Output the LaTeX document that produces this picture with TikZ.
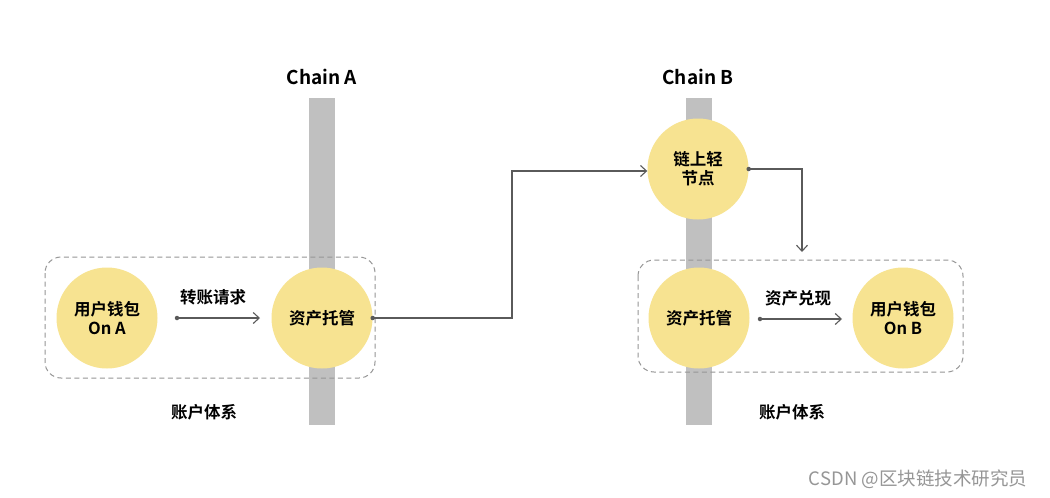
\documentclass[tikz,border=0pt]{standalone}
\usepackage{fontspec}
\setmainfont{Noto Sans CJK SC}[BoldFont={* Bold}]
\newfontfamily\cjkbold{Noto Sans CJK SC Bold}
\usetikzlibrary{arrows.meta}
\definecolor{circ}{RGB}{247,227,145}
\definecolor{bar}{RGB}{192,192,192}
\definecolor{dash}{RGB}{150,150,150}
\definecolor{line}{RGB}{90,90,90}
\tikzset{
  circnode/.style={circle,fill=circ,minimum size=101pt,inner sep=0pt,align=center,font=\cjkbold\fontsize{16.5}{19}\selectfont,text=black},
  chainbar/.style={fill=bar,draw=none},
  groupbox/.style={draw=dash,line width=1pt,rounded corners=16pt,dash pattern=on 5pt off 3.5pt},
  conn/.style={draw=line,line width=1.1pt,-{Straight Barb[length=6pt,width=11pt,line width=1.1pt]}},
  dotstart/.style={circle,fill=line,inner sep=0pt,minimum size=4.5pt},
  lbl/.style={font=\cjkbold\fontsize{16.5}{19}\selectfont,text=black},
  title/.style={font=\cjkbold\fontsize{19}{22}\selectfont,text=black},
}
\begin{document}
\begin{tikzpicture}[x=1pt,y=-1pt]
\useasboundingbox (0,0) rectangle (1050,498);
\fill[white] (0,0) rectangle (1050,498);
% chain bars
\fill[chainbar] (309,98) rectangle (335,425);
\fill[chainbar] (686,98) rectangle (712,425);
\node[title] (chainA) at (322,77) {Chain A};
\node[title] (chainB) at (698,77) {Chain B};
% group boxes
\draw[groupbox] (45,257) rectangle (375,378);
\draw[groupbox] (638,260) rectangle (963,372);
% circles
\node[circnode] (walletA) at (107,318) {用户钱包\\On A};
\node[circnode] (custA) at (322,318) {资产托管};
\node[circnode] (light) at (698,169) {链上轻\\节点};
\node[circnode] (custB) at (699,318) {资产托管};
\node[circnode] (walletB) at (903,318) {用户钱包\\On B};
% arrow labels
\node[lbl] (l1) at (213,297) {转账请求};
\node[lbl] (l2) at (798,298) {资产兑现};
\node[lbl] (acc1) at (204,412) {账户体系};
\node[lbl] (acc2) at (792,412) {账户体系};
% connectors
\coordinate (s1) at (177,318);
\coordinate (e1) at (260,318);
\node[dotstart] at (s1) {};
\draw[conn] (s1) -- (e1);
\coordinate (s2) at (760,319);
\coordinate (e2) at (842,319);
\node[dotstart] at (s2) {};
\draw[conn] (s2) -- (e2);
\node[dotstart] at (custA.east) {};
\draw[conn] (custA.east) -- (512,318) -- (512,171) -- (light.west |- 0,171);
\node[dotstart] at (light.east) {};
\coordinate (e3) at (802,252);
\draw[conn] (light.east) -| (e3);
% watermark
\node[font=\fontsize{18.5}{22}\selectfont,text={rgb,255:red,150;green,150;blue,150}] (wm) at (918,479) {CSDN @区块链技术研究员};
\end{tikzpicture}
\end{document}
